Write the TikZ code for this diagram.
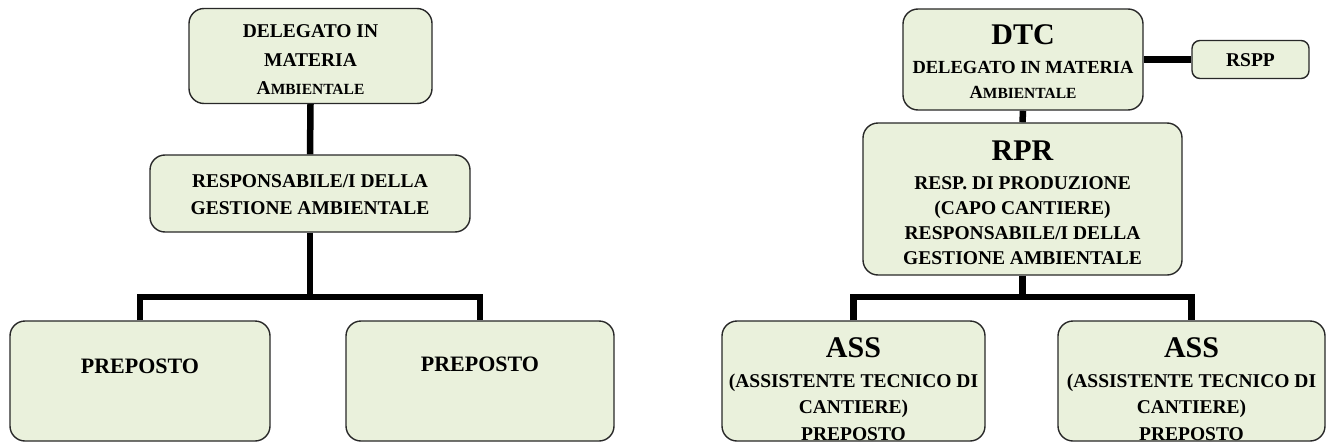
\documentclass[tikz,border=0pt]{standalone}
\usepackage{fontspec}
\setmainfont{Liberation Serif}
\usetikzlibrary{backgrounds}
\definecolor{boxfill}{RGB}{234,241,220}
\definecolor{boxline}{RGB}{40,40,40}
\newcommand\fakesc[1]{{\fontsize{15.5}{15.5}\selectfont #1}}
\tikzset{
  box/.style={draw=boxline, line width=1.4pt, fill=boxfill, rounded corners=15pt, inner sep=0pt},
  smallbox/.style={box, rounded corners=8pt},
  conn/.style={line width=6.5pt, black},
  txt/.style={font=\fontsize{19.5}{27}\selectfont\bfseries, align=center, inner sep=0pt},
  big/.style={font=\fontsize{30}{30}\selectfont\bfseries, inner sep=0pt},
  pre/.style={font=\fontsize{22}{22}\selectfont\bfseries, inner sep=0pt}
}
\begin{document}
\begin{tikzpicture}[x=1pt,y=-1pt]
\useasboundingbox (0,0) rectangle (1329,444);
\coordinate (jl) at (310,297);
\coordinate (jr) at (1022.5,297);
% ---------- left chart ----------
\node[box, minimum width=243pt, minimum height=95pt] (dl) at (310.5,56) {};
\node[box, minimum width=320pt, minimum height=77pt] (rl) at (310,193.5) {};
\node[box, minimum width=260pt, minimum height=120pt] (p1) at (140,381) {};
\node[box, minimum width=268pt, minimum height=120pt] (p2) at (480,381) {};
% ---------- right chart ----------
\node[box, minimum width=240pt, minimum height=101pt] (dtc) at (1023,59.5) {};
\node[smallbox, minimum width=117pt, minimum height=38pt] (rspp) at (1250.5,59.5) {};
\node[box, minimum width=319pt, minimum height=152pt] (rpr) at (1022.5,199) {};
\node[box, minimum width=263pt, minimum height=120pt] (a1) at (853.5,381) {};
\node[box, minimum width=267pt, minimum height=120pt] (a2) at (1191.5,381) {};
% ---------- connectors ----------
\begin{pgfonlayer}{background}
\draw[conn] (dl.south) -- (rl.north);
\draw[conn] (rl.south) -- (jl);
\draw[conn] (p1.north) |- (jl) -| (p2.north);
\draw[conn] (dtc.east) -- (rspp.west);
\draw[conn] (dtc.south) -- (rpr.north);
\draw[conn] (rpr.south) -- (jr);
\draw[conn] (a1.north) |- (jr) -| (a2.north);
\end{pgfonlayer}
% ---------- texts ----------
\node[txt, font=\fontsize{19.5}{28.5}\selectfont\bfseries] (tdl) at (310.5,60) {DELEGATO IN\\MATERIA\\A\fakesc{MBIENTALE}};
\node[txt] (trl) at (310,195) {RESPONSABILE/I DELLA\\GESTIONE AMBIENTALE};
\node[pre] (tp1) at (140,366) {PREPOSTO};
\node[pre] (tp2) at (480,364) {PREPOSTO};
\node[big] (tdtc) at (1023,35) {DTC};
\node[txt, font=\fontsize{18.5}{25}\selectfont\bfseries] (tdtc2) at (1023,80) {DELEGATO IN MATERIA\\A\fakesc{MBIENTALE}};
\node[txt] (trspp) at (1250.5,60) {RSPP};
\node[big] (trpr) at (1022.5,151) {RPR};
\node[txt, font=\fontsize{19.5}{25}\selectfont\bfseries] (trpr2) at (1022.5,221) {RESP. DI PRODUZIONE\\(CAPO CANTIERE)\\RESPONSABILE/I DELLA\\GESTIONE AMBIENTALE};
\node[big] (ta1) at (853.5,348) {ASS};
\node[txt, font=\fontsize{19.5}{26.5}\selectfont\bfseries] (ta1b) at (853.5,407) {(ASSISTENTE TECNICO DI\\CANTIERE)\\PREPOSTO};
\node[big] (ta2) at (1191.5,348) {ASS};
\node[txt, font=\fontsize{19.5}{26.5}\selectfont\bfseries] (ta2b) at (1191.5,407) {(ASSISTENTE TECNICO DI\\CANTIERE)\\PREPOSTO};
\end{tikzpicture}
\end{document}
